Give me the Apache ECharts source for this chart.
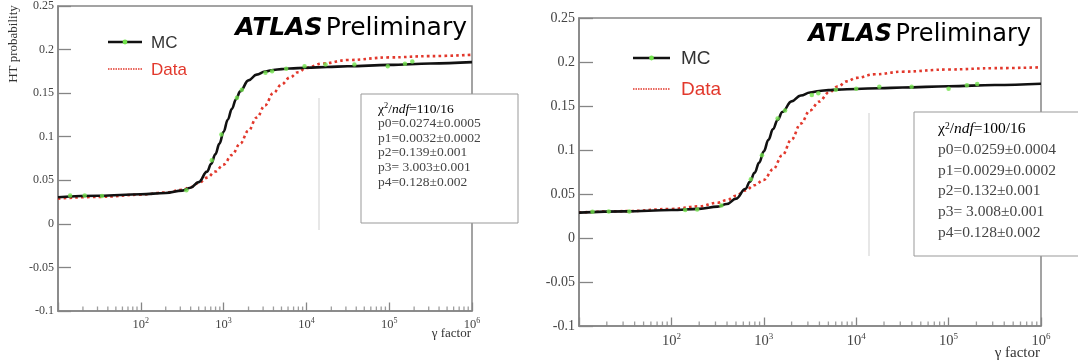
<!DOCTYPE html>
<html>
<head>
<meta charset="utf-8">
<script src="https://cdn.jsdelivr.net/npm/echarts@6/dist/echarts.min.js"></script>
<style>
  html, body { margin: 0; padding: 0; background: #fff; }
  #chart { width: 1078px; height: 362px; }
</style>
</head>
<body>
<div id="chart"></div>
<script>
var fitLogGamma = [1.0, 1.5, 2.0, 2.3, 2.5, 2.6, 2.7, 2.8, 2.85, 2.9, 2.95, 3.0, 3.05, 3.1, 3.15, 3.2, 3.3, 3.4, 3.5, 3.6, 3.7, 3.8, 4.0, 4.25, 4.5, 5.0, 5.5, 6.0];
var mcFitLeft  = [0.0306, 0.0322, 0.0339, 0.0354, 0.0381, 0.0414, 0.0479, 0.0599, 0.0688, 0.0797, 0.0921, 0.1057, 0.1194, 0.1320, 0.1430, 0.1520, 0.1646, 0.1713, 0.1748, 0.1766, 0.1776, 0.1783, 0.1792, 0.1800, 0.1808, 0.1824, 0.1840, 0.1856];
var mcFitRight = [0.0288, 0.0303, 0.0318, 0.0331, 0.0356, 0.0386, 0.0447, 0.0557, 0.0639, 0.0740, 0.0857, 0.0985, 0.1115, 0.1237, 0.1343, 0.1431, 0.1552, 0.1619, 0.1653, 0.1671, 0.1680, 0.1686, 0.1694, 0.1702, 0.1710, 0.1724, 0.1739, 0.1753];

var dataLogGamma = [1.0, 1.5, 2.0, 2.3, 2.5, 2.6, 2.7, 2.8, 2.9, 3.0, 3.1, 3.2, 3.3, 3.4, 3.5, 3.6, 3.7, 3.8, 3.9, 4.0, 4.2, 4.5, 5.0, 5.5, 6.0];
var dataFitLeft  = [0.029, 0.031, 0.0335, 0.036, 0.039, 0.042, 0.047, 0.053, 0.060, 0.068, 0.079, 0.092, 0.107, 0.122, 0.136, 0.150, 0.160, 0.168, 0.174, 0.179, 0.184, 0.188, 0.191, 0.1925, 0.194];
var dataFitRight = [0.029, 0.0305, 0.033, 0.036, 0.040, 0.043, 0.048, 0.054, 0.060, 0.066, 0.078, 0.094, 0.112, 0.130, 0.145, 0.155, 0.165, 0.172, 0.178, 0.182, 0.186, 0.189, 0.1915, 0.193, 0.194];

// green MC points
var mcPtsLeftGamma = [14, 21, 34, 355, 720, 940, 1450, 1660, 3200, 3850, 5700, 9500, 17000, 38000, 96000, 155000, 190000];
var mcPtsLeft      = [0.0325, 0.0325, 0.032, 0.0386, 0.073, 0.1025, 0.1446, 0.154, 0.1733, 0.175, 0.178, 0.181, 0.183, 0.183, 0.181, 0.1836, 0.1863];
var mcPtsRightGamma = [14, 21, 35, 141, 190, 347, 724, 955, 1410, 1700, 3310, 3890, 6030, 10000, 17800, 39800, 100000, 158000, 204000];
var mcPtsRight      = [0.0298, 0.030, 0.030, 0.0317, 0.0324, 0.037, 0.0667, 0.094, 0.1357, 0.145, 0.1625, 0.1644, 0.1686, 0.1697, 0.172, 0.172, 0.1697, 0.1735, 0.175];

var yMin = -0.1, yMax = 0.25, yStep = 0.05;
var xMin = 10, xMax = 1e6;
var decades = [1, 2, 3, 4, 5];
var minorMult = [2, 3, 4, 5, 6, 7, 8, 9];

var statsLeft  = ['110/16', 'p0=0.0274±0.0005', 'p1=0.0032±0.0002', 'p2=0.139±0.001', 'p3= 3.003±0.001', 'p4=0.128±0.002'];
var statsRight = ['100/16', 'p0=0.0259±0.0004', 'p1=0.0029±0.0002', 'p2=0.132±0.001', 'p3= 3.008±0.001', 'p4=0.128±0.002'];

var BLACK = '#111', RED = '#e2382c', GREEN = '#72e24c', FRAME = '#858585', TXT = '#444';
var SERIF = 'Liberation Serif', SANS = 'Liberation Sans', ATLASFONT = 'DejaVu Sans';

function toPairs(xs, ys, logX) {
  return xs.map(function (x, i) { return [logX ? Math.pow(10, x) : x, ys[i]]; });
}

var minorTicks = [];
decades.forEach(function (d) {
  minorMult.forEach(function (k) { minorTicks.push([k * Math.pow(10, d), yMin]); });
});

var panels = [
  { grid: {left: 58, top: 6, width: 414, height: 305}, font: 12, sup: 8, ytick: 13, mc: mcFitLeft, data: dataFitLeft, ptsX: mcPtsLeftGamma, ptsY: mcPtsLeft },
  { grid: {left: 579, top: 18, width: 462, height: 308}, font: 14, sup: 9, ytick: 14, mc: mcFitRight, data: dataFitRight, ptsX: mcPtsRightGamma, ptsY: mcPtsRight }
];

var grids = [], xAxes = [], yAxes = [], series = [];
panels.forEach(function (p, i) {
  grids.push(Object.assign({show: true, borderColor: FRAME, borderWidth: 1.5, backgroundColor: 'transparent'}, p.grid));
  xAxes.push({
    gridIndex: i, type: 'log', logBase: 10, min: xMin, max: xMax,
    axisLine: {onZero: false, lineStyle: {color: FRAME, width: 1.5}},
    axisTick: {inside: true, length: 8.5, lineStyle: {color: FRAME, width: 1.3}},
    splitLine: {show: false},
    axisLabel: {
      margin: 6,
      formatter: function (v) {
        var e = Math.round(Math.log(v) / Math.LN10);
        return e <= 1 ? '' : '{b|10}{s|' + e + '}';
      },
      rich: {
        b: {fontFamily: SERIF, fontSize: p.font + 0.5, color: TXT, lineHeight: p.font + 4},
        s: {fontFamily: SERIF, fontSize: p.sup, color: TXT, verticalAlign: 'top', lineHeight: p.sup + 1}
      }
    }
  });
  yAxes.push({
    gridIndex: i, type: 'value', min: yMin, max: yMax, interval: yStep,
    axisLine: {show: true, onZero: false, lineStyle: {color: FRAME, width: 1.5}},
    axisTick: {inside: true, length: p.ytick, lineStyle: {color: FRAME, width: 1.3}},
    splitLine: {show: false},
    axisLabel: {margin: 4, fontFamily: SERIF, fontSize: p.font, color: TXT}
  });
  series.push({
    type: 'scatter', xAxisIndex: i, yAxisIndex: i, silent: true, z: 1,
    symbol: 'rect', symbolSize: [1.3, 4.5], symbolOffset: [0, '-50%'],
    itemStyle: {color: FRAME}, data: minorTicks
  });
  series.push({
    name: 'Data', type: 'line', xAxisIndex: i, yAxisIndex: i, smooth: 0.4, smoothMonotone: 'x',
    showSymbol: false, silent: true, z: 3,
    lineStyle: {color: RED, width: 2.6, type: [2.6, 3.2]},
    data: toPairs(dataLogGamma, p.data, true)
  });
  series.push({
    name: 'MC', type: 'line', xAxisIndex: i, yAxisIndex: i, smooth: 0.4, smoothMonotone: 'x',
    showSymbol: false, silent: true, z: 4,
    lineStyle: {color: BLACK, width: 2.6},
    data: toPairs(fitLogGamma, p.mc, true)
  });
  series.push({
    type: 'scatter', xAxisIndex: i, yAxisIndex: i, silent: true, z: 5,
    symbolSize: 4.5, itemStyle: {color: GREEN},
    data: toPairs(p.ptsX, p.ptsY, false)
  });
});

function statsBox(x, y, w, h, tx, ty0, dy, fs, vals) {
  var els = [{type: 'rect', shape: {x: x, y: y, width: w, height: h}, style: {fill: '#fff', stroke: '#999', lineWidth: 1}, z: 100}];
  els.push({
    type: 'text', x: tx, y: ty0, z: 101,
    style: {
      text: '{n|χ}{s|2}{n|/}{i|ndf}{n|=' + vals[0] + '}', verticalAlign: 'middle',
      rich: {
        n: {fontFamily: SERIF, fontSize: fs, color: TXT},
        i: {fontFamily: SERIF, fontSize: fs, fontStyle: 'italic', color: TXT},
        s: {fontFamily: SERIF, fontSize: fs * 0.62, color: TXT, verticalAlign: 'top', lineHeight: fs * 0.7}
      }
    }
  });
  for (var k = 1; k < vals.length; k++) {
    els.push({type: 'text', x: tx, y: ty0 + dy * k, z: 101,
      style: {text: vals[k], font: fs + 'px "' + SERIF + '"', fill: TXT, verticalAlign: 'middle'}});
  }
  return els;
}

function legend(x0, x1, yMC, yData, tx, fs) {
  return [
    {type: 'line', shape: {x1: x0, y1: yMC, x2: x1, y2: yMC}, style: {stroke: BLACK, lineWidth: 2.6}, z: 50},
    {type: 'circle', shape: {cx: (x0 + x1) / 2, cy: yMC, r: 2.4}, style: {fill: GREEN}, z: 51},
    {type: 'text', x: tx, y: yMC + 1, style: {text: 'MC', font: fs + 'px "' + SANS + '"', fill: '#333', verticalAlign: 'middle'}, z: 50},
    {type: 'line', shape: {x1: x0, y1: yData, x2: x1, y2: yData}, style: {stroke: RED, lineWidth: 1.6, lineDash: [1.5, 1]}, z: 50},
    {type: 'text', x: tx, y: yData + 1, style: {text: 'Data', font: fs + 'px "' + SANS + '"', fill: RED, verticalAlign: 'middle'}, z: 50}
  ];
}

function atlas(xRight, yMid, fs) {
  return {
    type: 'text', x: xRight, y: yMid, z: 50,
    style: {
      text: '{a|ATLAS} {b|Preliminary}', align: 'right', verticalAlign: 'middle',
      rich: {
        a: {fontFamily: ATLASFONT, fontSize: fs, fontWeight: 'bold', fontStyle: 'italic', color: '#333'},
        b: {fontFamily: ATLASFONT, fontSize: fs, color: '#333'}
      }
    }
  };
}

var graphics = []
  .concat(legend(108, 142, 42, 69, 151, 17))
  .concat(legend(633, 670, 58, 89, 681, 19))
  .concat([atlas(467, 28, 25), atlas(1031, 35, 24)])
  .concat([
    {type: 'line', shape: {x1: 319, y1: 98, x2: 319, y2: 230}, style: {stroke: '#cfcfcf', lineWidth: 1}, z: 10},
    {type: 'line', shape: {x1: 869, y1: 113, x2: 869, y2: 256}, style: {stroke: '#cfcfcf', lineWidth: 1}, z: 10}
  ])
  .concat(statsBox(361, 94, 157, 129, 378, 109, 14.6, 13.5, statsLeft))
  .concat(statsBox(914, 112, 180, 144, 938, 129, 20.8, 15.5, statsRight))
  .concat([
    {type: 'text', x: 14, y: 44, rotation: Math.PI / 2, z: 50,
      style: {text: 'HT probability', font: '13px "' + SERIF + '"', fill: '#333', align: 'center', verticalAlign: 'middle'}},
    {type: 'text', x: 471, y: 334, z: 50,
      style: {text: 'γ factor', font: '13px "' + SERIF + '"', fill: '#333', align: 'right', verticalAlign: 'middle'}},
    {type: 'text', x: 1040, y: 353, z: 50,
      style: {text: 'γ factor', font: '15px "' + SERIF + '"', fill: '#333', align: 'right', verticalAlign: 'middle'}}
  ]);

var myChart = echarts.init(document.getElementById('chart'));
myChart.setOption({
  animation: false,
  grid: grids,
  xAxis: xAxes,
  yAxis: yAxes,
  series: series,
  graphic: graphics
});
</script>
</body>
</html>
